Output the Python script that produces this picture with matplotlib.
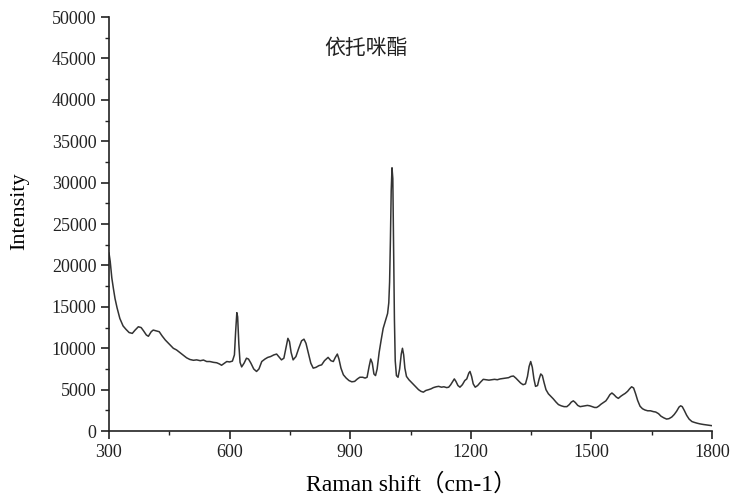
import matplotlib
matplotlib.use('Agg')
import matplotlib.pyplot as plt
from matplotlib.ticker import MultipleLocator
import numpy as np

# Raman spectrum
shift = [300, 303, 307, 311, 315, 320, 327, 335, 342, 350, 358, 365, 373, 380, 386, 393, 398,
         405, 410, 418, 425, 432, 440, 452, 460, 468, 476, 485, 493, 501, 510, 518, 527, 535,
         543, 551, 560, 568, 575, 580, 587, 593, 600, 607, 612, 615, 618, 620, 623, 626, 630,
         636, 642, 647, 653, 660, 667, 673, 680, 688, 695, 702, 710, 717, 722, 729, 735, 740,
         745, 749, 753, 758, 765, 772, 779, 785, 790, 795, 802, 808, 815, 822, 829, 836, 845,
         852, 858, 863, 868, 872, 877, 883, 890, 897, 904, 911, 918, 924, 931, 937, 942, 947,
         951, 955, 959, 963, 967, 972, 977, 982, 988, 993, 996, 998, 1000, 1002, 1004, 1006,
         1008, 1010, 1012, 1015, 1019, 1023, 1027, 1030, 1033, 1036, 1040, 1046, 1052, 1058,
         1064, 1070, 1076, 1082, 1088, 1095, 1101, 1107, 1114, 1120, 1127, 1133, 1140, 1145,
         1150, 1155, 1159, 1163, 1168, 1173, 1179, 1185, 1190, 1195, 1198, 1202, 1206, 1211,
         1217, 1224, 1231, 1238, 1245, 1252, 1259, 1266, 1273, 1280, 1287, 1294, 1300, 1306,
         1312, 1318, 1324, 1330, 1336, 1341, 1345, 1349, 1353, 1357, 1361, 1366, 1370, 1374,
         1378, 1382, 1387, 1393, 1399, 1405, 1412, 1418, 1425, 1432, 1439, 1445, 1450, 1455,
         1460, 1466, 1472, 1478, 1484, 1490, 1496, 1502, 1508, 1513, 1518, 1524, 1530, 1536,
         1541, 1546, 1551, 1556, 1562, 1567, 1573, 1579, 1584, 1590, 1595, 1600, 1605, 1610,
         1615, 1621, 1627, 1633, 1640, 1647, 1654, 1660, 1667, 1673, 1680, 1687, 1693, 1700,
         1706, 1712, 1718, 1722, 1726, 1731, 1737, 1743, 1750, 1756, 1763, 1770, 1778, 1786,
         1793, 1800]
intensity = [21500, 20500, 18500, 17200, 16000, 14900, 13600, 12700, 12300, 11900, 11800,
             12200, 12600, 12500, 12100, 11600, 11450, 12000, 12200, 12100, 12000, 11500,
             11000, 10400, 10000, 9800, 9500, 9150, 8850, 8650, 8550, 8600, 8500, 8580, 8400,
             8400, 8300, 8250, 8100, 7950, 8200, 8400, 8350, 8450, 9200, 12000, 14300, 13800,
             10500, 8300, 7750, 8200, 8800, 8700, 8200, 7500, 7200, 7500, 8400, 8700, 8900,
             9000, 9200, 9300, 9000, 8600, 8800, 10000, 11200, 10800, 9500, 8600, 9000, 10000,
             10900, 11100, 10600, 9600, 8200, 7600, 7700, 7900, 8000, 8500, 8900, 8500, 8400,
             8900, 9300, 8700, 7600, 6800, 6400, 6100, 5950, 6000, 6300, 6500, 6500, 6400,
             6500, 7800, 8700, 8200, 6900, 6700, 7500, 9500, 11000, 12400, 13400, 14200,
             15500, 18000, 23000, 29000, 31800, 30500, 22000, 13500, 8500, 6700, 6500, 7500,
             9300, 10000, 9200, 7600, 6600, 6200, 5900, 5600, 5300, 5000, 4800, 4700, 4900,
             5000, 5100, 5250, 5350, 5400, 5300, 5350, 5250, 5300, 5600, 6000, 6300, 6000,
             5500, 5300, 5600, 6100, 6300, 7000, 7200, 6600, 5700, 5300, 5500, 5900, 6250,
             6200, 6150, 6200, 6250, 6200, 6300, 6350, 6400, 6450, 6600, 6650, 6400, 6100,
             5800, 5600, 5700, 6600, 7800, 8400, 7700, 6300, 5400, 5500, 6300, 6900, 6700,
             5900, 5000, 4500, 4200, 3900, 3500, 3200, 3050, 2950, 2950, 3200, 3500, 3650,
             3450, 3100, 2950, 3000, 3050, 3100, 3050, 2950, 2850, 2850, 3000, 3250, 3450,
             3650, 4000, 4400, 4600, 4400, 4100, 3950, 4200, 4400, 4550, 4800, 5100, 5350,
             5200, 4500, 3700, 3000, 2700, 2550, 2450, 2450, 2350, 2300, 2100, 1800, 1600,
             1450, 1500, 1700, 2000, 2400, 2900, 3050, 2950, 2500, 1900, 1450, 1150, 1050,
             950, 870, 800, 750, 700, 650]

title_text = '依托咪酯'
x_label = 'Raman shift（cm-1）'
y_label = 'Intensity'

serif = ['Liberation Serif', 'Noto Sans CJK SC']

fig = plt.figure(figsize=(7.44, 5.03), dpi=100)
ax = fig.add_axes([0.1465, 0.143, 0.8105, 0.823])

ax.plot(shift, intensity, color='#333333', linewidth=1.1)

ax.set_xlim(300, 1800)
ax.set_ylim(0, 50000)
ax.xaxis.set_major_locator(MultipleLocator(300))
ax.xaxis.set_minor_locator(MultipleLocator(150))
ax.yaxis.set_major_locator(MultipleLocator(5000))
ax.yaxis.set_minor_locator(MultipleLocator(2500))

for side in ['top', 'right']:
    ax.spines[side].set_visible(False)
for side in ['left', 'bottom']:
    ax.spines[side].set_linewidth(1.2)
    ax.spines[side].set_color('#222222')

ax.tick_params(which='major', direction='out', length=6, width=1.2, colors='#222222',
               labelsize=13, pad=3)
ax.tick_params(which='minor', direction='out', length=3, width=1.0, colors='#222222')
for lbl in ax.get_xticklabels() + ax.get_yticklabels():
    lbl.set_family(serif)

ax.set_xlabel(x_label, fontsize=17, family=serif)
ax.xaxis.set_label_coords(0.502, -0.103)
ax.set_ylabel(y_label, fontsize=16, family=serif)
ax.yaxis.set_label_coords(-0.133, 0.53)

ax.text(0.426, 0.926, title_text, transform=ax.transAxes, ha='center', va='center',
        fontsize=15, family=['Noto Sans CJK SC', 'DejaVu Sans'], color='#222222')

fig.savefig('out.png', dpi=100)
